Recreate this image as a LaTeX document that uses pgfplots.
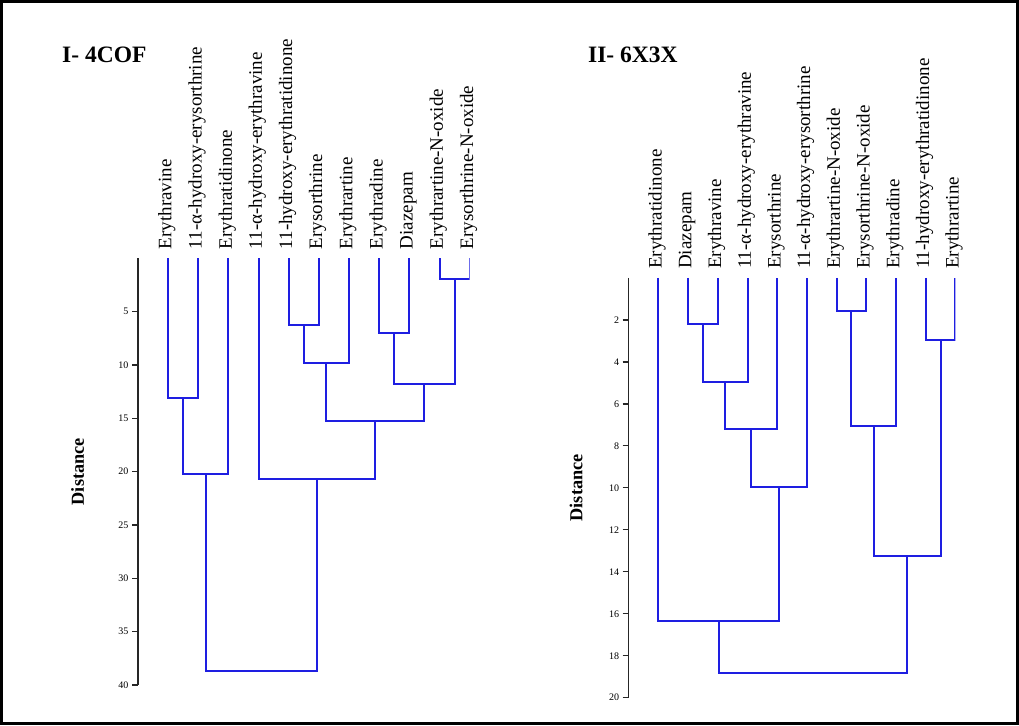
\documentclass[border=0pt]{standalone}
\usepackage{fontspec}
\setmainfont{Liberation Serif}
\usepackage{pgfplots}
\pgfplotsset{compat=1.18}
\definecolor{dendro}{RGB}{30,30,225}
\pgfplotsset{
  dendrostyle/.style={
    scale only axis,
    anchor=center,
    y dir=reverse,
    axis x line*=top,
    axis y line*=left,
    x axis line style={draw=none},
    y axis line style={line width=1.4pt, black!85},
    xtick={1,...,11},
    major x tick style={draw=none},
    xtick align=inside,
    ytick align=outside,
    ytick style={line width=1.2pt, black!85},
    major tick length=6pt,
    xmin=0, xmax=11, ymin=0,
    xticklabel shift=9pt,
    xticklabel style={rotate=90, anchor=west, font=\fontsize{19}{19}\selectfont, inner sep=0pt, text height=0.662em, text depth=0pt},
    yticklabel style={font=\fontsize{10}{12}\selectfont},
    /pgf/number format/assume math mode=true,
    ylabel={Distance},
    ylabel style={font=\bfseries\fontsize{18.3}{19}\selectfont, anchor=center},
    every axis plot post/.append style={color=dendro, line width=2pt, solid, mark=none},
  }
}
\begin{document}
\begin{tikzpicture}[x=1pt,y=1pt]
\useasboundingbox (0pt,0pt) rectangle (1019pt,725pt);
\fill[white] (0pt,0pt) rectangle (1019pt,725pt);
\draw[line width=3pt] (1.5pt,1.5pt) rectangle (1017.5pt,723.5pt);

\node[anchor=base west, font=\bfseries\fontsize{23.5}{24}\selectfont, inner sep=0pt] at (62pt,662pt) {I- 4COF};
\node[anchor=base west, font=\bfseries\fontsize{23.5}{24}\selectfont, inner sep=0pt] at (588pt,662pt) {II- 6X3X};

% ---------- I- 4COF ----------
\begin{axis}[dendrostyle,
  at={(303.85pt,253.3pt)}, width=331.7pt, height=426.6pt,
  ymax=40, ytick={5,10,...,40},
  xticklabels={Erythravine, 11-α-hydroxy-erysorthrine, Erythratidinone, 11-α-hydroxy-erythravine, 11-hydroxy-erythratidinone, Erysorthrine, Erythrartine, Erythradine, Diazepam, Erythrartine-N-oxide, Erysorthrine-N-oxide},
  ylabel style={at={(axis description cs:-0.182,0.5)}},
]
\addplot coordinates {(1,0) (1,13.1) (2,13.1) (2,0)};
\addplot coordinates {(1.5,13.1) (1.5,20.2) (3,20.2) (3,0)};
\addplot coordinates {(5,0) (5,6.2) (6,6.2) (6,0)};
\addplot coordinates {(5.5,6.2) (5.5,9.85) (7,9.85) (7,0)};
\addplot coordinates {(8,0) (8,7.0) (9,7.0) (9,0)};
\addplot coordinates {(10,0) (10,1.96) (11,1.96) (11,0)};
\addplot coordinates {(8.5,7.0) (8.5,11.8) (10.5,11.8) (10.5,1.96)};
\addplot coordinates {(6.25,9.85) (6.25,15.25) (9.5,15.25) (9.5,11.8)};
\addplot coordinates {(4,0) (4,20.7) (7.875,20.7) (7.875,15.25)};
\addplot coordinates {(2.25,20.2) (2.25,38.7) (5.9375,38.7) (5.9375,20.7)};
\end{axis}

% ---------- II- 6X3X ----------
\begin{axis}[dendrostyle,
  at={(792.05pt,237.15pt)}, width=326.7pt, height=419.7pt,
  ymax=20, ytick={2,4,...,20},
  xticklabels={Erythratidinone, Diazepam, Erythravine, 11-α-hydroxy-erythravine, Erysorthrine, 11-α-hydroxy-erysorthrine, Erythrartine-N-oxide, Erysorthrine-N-oxide, Erythradine, 11-hydroxy-erythratidinone, Erythrartine},
  ylabel style={at={(axis description cs:-0.161,0.5)}},
]
\addplot coordinates {(2,0) (2,2.21) (3,2.21) (3,0)};
\addplot coordinates {(2.5,2.21) (2.5,4.97) (4,4.97) (4,0)};
\addplot coordinates {(3.25,4.97) (3.25,7.21) (5,7.21) (5,0)};
\addplot coordinates {(4.125,7.21) (4.125,9.96) (6,9.96) (6,0)};
\addplot coordinates {(7,0) (7,1.57) (8,1.57) (8,0)};
\addplot coordinates {(7.5,1.57) (7.5,7.07) (9,7.07) (9,0)};
\addplot coordinates {(10,0) (10,2.94) (11,2.94) (11,0)};
\addplot coordinates {(8.25,7.07) (8.25,13.27) (10.5,13.27) (10.5,2.94)};
\addplot coordinates {(1,0) (1,16.35) (5.0625,16.35) (5.0625,9.96)};
\addplot coordinates {(3.03125,16.35) (3.03125,18.8) (9.375,18.8) (9.375,13.27)};
\end{axis}
\end{tikzpicture}
\end{document}
